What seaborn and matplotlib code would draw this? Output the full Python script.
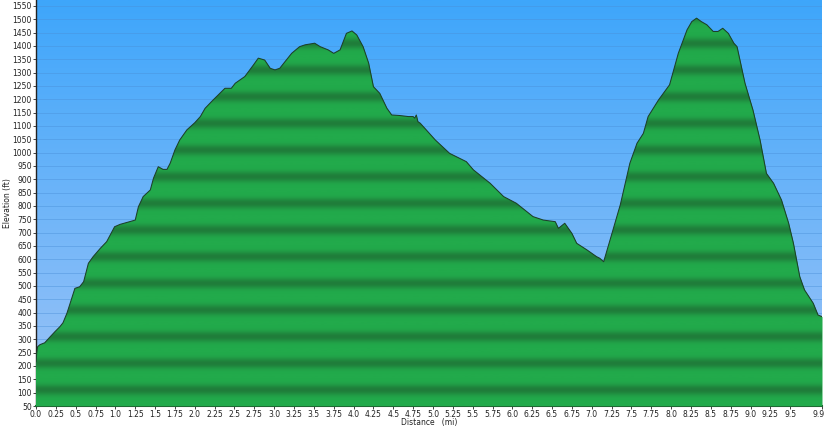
import numpy as np
import pandas as pd
import matplotlib
matplotlib.use("Agg")
import matplotlib.pyplot as plt
import matplotlib.transforms as mtransforms
import seaborn as sns
from matplotlib.colors import LinearSegmentedColormap

# ========= Profile data =========
distance_mi = [0.00, 0.01, 0.02, 0.05, 0.11, 0.18, 0.24, 0.30, 0.34, 0.39, 0.43, 0.49,
               0.55, 0.60, 0.66, 0.72, 0.81, 0.89, 0.99, 1.06, 1.18, 1.25, 1.29, 1.35,
               1.44, 1.48, 1.54, 1.60, 1.65, 1.69, 1.75, 1.81, 1.90, 2.00, 2.07, 2.13,
               2.23, 2.38, 2.46, 2.51, 2.63, 2.74, 2.80, 2.88, 2.95, 3.01, 3.07, 3.22,
               3.32, 3.39, 3.51, 3.58, 3.68, 3.75, 3.83, 3.91, 3.98, 4.04, 4.12, 4.19,
               4.25, 4.33, 4.42, 4.48, 4.58, 4.69, 4.75, 4.77, 4.79, 4.81, 4.84, 5.03,
               5.21, 5.42, 5.51, 5.72, 5.89, 6.05, 6.26, 6.39, 6.54, 6.58, 6.66, 6.75,
               6.81, 6.94, 7.06, 7.10, 7.15, 7.23, 7.36, 7.48, 7.57, 7.65, 7.71, 7.84,
               7.98, 8.09, 8.20, 8.26, 8.32, 8.38, 8.45, 8.53, 8.59, 8.65, 8.72, 8.79,
               8.83, 8.93, 9.03, 9.12, 9.20, 9.29, 9.39, 9.48, 9.54, 9.62, 9.68, 9.79,
               9.85, 9.90]
elevation_ft = [215, 250, 272, 280, 287, 310, 329, 347, 362, 398, 435, 491,
                497, 516, 585, 610, 641, 666, 722, 731, 741, 747, 797, 835,
                860, 904, 947, 937, 937, 960, 1010, 1047, 1085, 1112, 1135, 1166,
                1197, 1241, 1241, 1260, 1285, 1329, 1354, 1347, 1316, 1310, 1316, 1372,
                1397, 1404, 1410, 1397, 1385, 1372, 1385, 1447, 1456, 1441, 1397, 1335,
                1247, 1222, 1166, 1141, 1139, 1135, 1135, 1129, 1141, 1116, 1110, 1047,
                997, 966, 935, 885, 835, 810, 760, 747, 741, 716, 735, 697,
                660, 635, 610, 604, 591, 672, 805, 960, 1035, 1072, 1135, 1197,
                1254, 1372, 1460, 1491, 1504, 1491, 1479, 1454, 1454, 1466, 1447, 1410,
                1397, 1260, 1160, 1047, 922, 885, 822, 735, 660, 535, 485, 435,
                391, 385]

x_ticks = [0.0, 0.25, 0.5, 0.75, 1.0, 1.25, 1.5, 1.75, 2.0, 2.25, 2.5, 2.75, 3.0,
           3.25, 3.5, 3.75, 4.0, 4.25, 4.5, 4.75, 5.0, 5.25, 5.5, 5.75, 6.0, 6.25,
           6.5, 6.75, 7.0, 7.25, 7.5, 7.75, 8.0, 8.25, 8.5, 8.75, 9.0, 9.25, 9.5, 9.9]
y_ticks = list(range(50, 1551, 50))

profile = pd.DataFrame({"distance": distance_mi, "elevation": elevation_ft})

# ========= Plot =========
sns.set_style("white")
fig = plt.figure(figsize=(8.25, 4.28), dpi=100)
ax = fig.add_axes([36 / 825, 22 / 428, 786 / 825, 406 / 428])

x_min, x_max = 0.0, 9.9
y_min, y_max = 50, 1572
ax.set_xlim(x_min, x_max)
ax.set_ylim(y_min, y_max)

# sky gradient background
sky = LinearSegmentedColormap.from_list("sky", ["#9ec4f7", "#3ea6fb"])
grad = np.linspace(0, 1, 256).reshape(-1, 1)
ax.imshow(grad, cmap=sky, origin="lower", aspect="auto",
          extent=[x_min, x_max, y_min, y_max], zorder=0)

# horizontal grid
for yv in y_ticks:
    ax.axhline(yv, color="#4a8fd8", lw=0.6, alpha=0.5, zorder=1)

# banded green fill clipped to the profile
poly = ax.fill_between(profile["distance"], profile["elevation"], y_min,
                       color="#22a84a", lw=0, zorder=2)
green = LinearSegmentedColormap.from_list("green", ["#22aa4b", "#1f7d3a"])
ey = np.linspace(y_min, y_max, 1200)
band = (0.5 * (1 + np.cos(2 * np.pi * (ey - 10) / 100))) ** 2.5
img = ax.imshow(band.reshape(-1, 1), cmap=green, origin="lower", aspect="auto",
                extent=[x_min, x_max, y_min, y_max], zorder=3)
img.set_clip_path(poly.get_paths()[0], transform=ax.transData)

# outline
sns.lineplot(data=profile, x="distance", y="elevation", ax=ax,
             color="#1d3f2a", lw=0.75, zorder=4, estimator=None, sort=False)

ax.set_xticks(x_ticks)
ax.set_xticklabels([("%g" % t) if t % 1 else ("%.1f" % t) for t in x_ticks])
ax.set_yticks(y_ticks)
ax.tick_params(axis="both", labelsize=5.5, length=2, width=0.6, pad=1,
               colors="#222222", direction="out")
ax.tick_params(axis="x", bottom=True)
ax.tick_params(axis="y", left=True)

# keep the last distance label inside the picture
last = ax.get_xticklabels()[-1]
last.set_transform(last.get_transform() +
                   mtransforms.ScaledTranslation(-3 / 100, 0, fig.dpi_scale_trans))

for side in ["top", "right"]:
    ax.spines[side].set_visible(False)
ax.spines["left"].set_color("#222222")
ax.spines["left"].set_linewidth(1.0)
ax.spines["bottom"].set_color("#1e6a33")
ax.spines["bottom"].set_linewidth(1.5)

ax.set_xlabel("Distance   (mi)", fontsize=5.5, color="#222222")
ax.set_ylabel("Elevation (ft)", fontsize=5.5, color="#222222")
ax.xaxis.set_label_coords(0.5, -12 / 406)
ax.yaxis.set_label_coords(-24 / 786, 0.5)

fig.savefig("out.png", dpi=100)
